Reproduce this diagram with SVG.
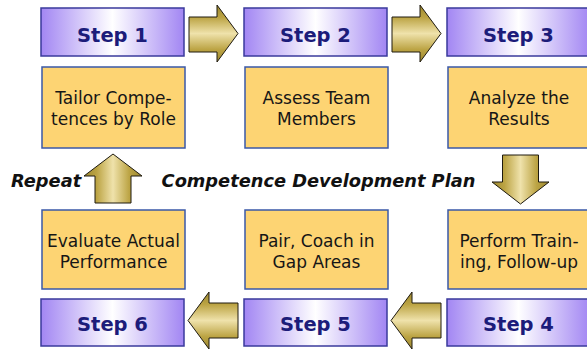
<svg xmlns="http://www.w3.org/2000/svg" width="587" height="349" viewBox="0 0 587 349">
  <defs>
    <linearGradient id="stepFill" x1="0" y1="0" x2="1" y2="0">
      <stop offset="0" stop-color="#a286f3"/>
      <stop offset="0.5" stop-color="#ffffff"/>
      <stop offset="1" stop-color="#a286f3"/>
    </linearGradient>
    <linearGradient id="goldH" x1="0" y1="0" x2="0" y2="1">
      <stop offset="0" stop-color="#9c8830"/>
      <stop offset="0.22" stop-color="#bca444"/>
      <stop offset="0.5" stop-color="#efe2ab"/>
      <stop offset="0.78" stop-color="#bca444"/>
      <stop offset="1" stop-color="#9c8830"/>
    </linearGradient>
    <linearGradient id="goldV" x1="0" y1="0" x2="1" y2="0">
      <stop offset="0" stop-color="#9c8830"/>
      <stop offset="0.22" stop-color="#bca444"/>
      <stop offset="0.5" stop-color="#efe2ab"/>
      <stop offset="0.78" stop-color="#bca444"/>
      <stop offset="1" stop-color="#9c8830"/>
    </linearGradient>
  </defs>
  <style>
    .step rect { fill: url(#stepFill); stroke: #3a3a9c; stroke-width: 1.5; }
    .step text { font-family: "DejaVu Sans", "Liberation Sans", sans-serif; font-weight: bold; font-size: 19.5px; fill: #1c1c7a; text-anchor: middle; }
    .task rect { fill: #fdd473; stroke: #3a58a8; stroke-width: 1.5; }
    .task text { font-family: "DejaVu Sans", "Liberation Sans", sans-serif; font-size: 17px; fill: #161616; text-anchor: middle; }
    .arrow-h { fill: url(#goldH); stroke: #1e1a10; stroke-width: 1; stroke-linejoin: miter; }
    .arrow-v { fill: url(#goldV); stroke: #1e1a10; stroke-width: 1; stroke-linejoin: miter; }
    .caption { font-family: "DejaVu Sans", "Liberation Sans", sans-serif; font-weight: bold; font-style: italic; font-size: 17.8px; fill: #111111; }
  </style>
  <rect width="587" height="349" fill="#ffffff"/>

  <!-- step headers, top row -->
  <g id="step1" class="step"><rect x="41" y="8" width="143" height="48"/><text x="112.5" y="42">Step 1</text></g>
  <g id="step2" class="step"><rect x="244" y="8" width="143" height="48"/><text x="315.5" y="42">Step 2</text></g>
  <g id="step3" class="step"><rect x="447" y="8" width="143" height="48"/><text x="518.5" y="42">Step 3</text></g>

  <!-- task boxes, top row -->
  <g id="task1" class="task"><rect x="42" y="67" width="143" height="81"/><text x="113.5" y="104">Tailor Compe-</text><text x="113.5" y="125">tences by Role</text></g>
  <g id="task2" class="task"><rect x="245" y="67" width="143" height="81"/><text x="316.5" y="104">Assess Team</text><text x="316.5" y="125">Members</text></g>
  <g id="task3" class="task"><rect x="448" y="67" width="143" height="81"/><text x="519" y="104">Analyze the</text><text x="519" y="125">Results</text></g>

  <!-- task boxes, bottom row -->
  <g id="task6" class="task"><rect x="42" y="210" width="143" height="79"/><text x="113.5" y="247">Evaluate Actual</text><text x="113.5" y="268">Performance</text></g>
  <g id="task5" class="task"><rect x="245" y="210" width="143" height="79"/><text x="316.5" y="247">Pair, Coach in</text><text x="316.5" y="268">Gap Areas</text></g>
  <g id="task4" class="task"><rect x="448" y="210" width="143" height="79"/><text x="519" y="247">Perform Train-</text><text x="519" y="268">ing, Follow-up</text></g>

  <!-- step headers, bottom row -->
  <g id="step6" class="step"><rect x="41" y="299" width="143" height="47"/><text x="112.5" y="331">Step 6</text></g>
  <g id="step5" class="step"><rect x="244" y="299" width="143" height="47"/><text x="315.5" y="331">Step 5</text></g>
  <g id="step4" class="step"><rect x="447" y="299" width="143" height="47"/><text x="518.5" y="331">Step 4</text></g>

  <!-- block arrows linking the steps -->
  <g id="connectors">
    <polygon class="arrow-h" points="189,17 217,17 217,5 238,33.5 217,62 217,52 189,52"/>
    <polygon class="arrow-h" points="392,17 420,17 420,5 441,33.5 420,62 420,52 392,52"/>
    <polygon class="arrow-v" points="502.5,155 538.5,155 538.5,182 549,182 520.5,204 492,182 502.5,182"/>
    <polygon class="arrow-h" points="441,303 412,303 412,292 391,320.5 412,349 412,338 441,338"/>
    <polygon class="arrow-h" points="238,303 209,303 209,292 188,320.5 209,349 209,338 238,338"/>
    <polygon class="arrow-v" points="95,203 95,176 84,176 113,154 142,176 131,176 131,203"/>
  </g>

  <!-- captions -->
  <text class="caption" x="11" y="187">Repeat</text>
  <text class="caption" x="318.5" y="187" text-anchor="middle">Competence Development Plan</text>
</svg>
